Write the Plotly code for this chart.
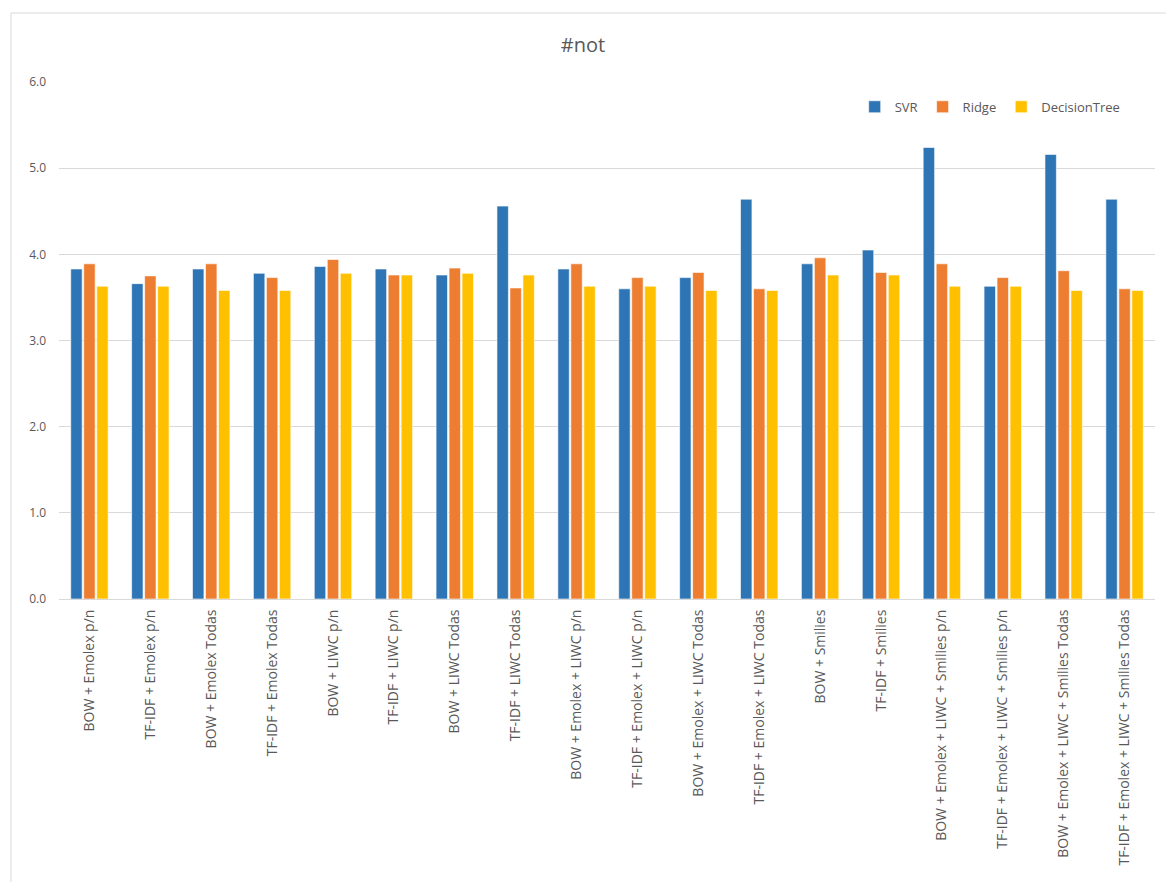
import plotly.graph_objects as go

categories = [
    "BOW + Emolex p/n",
    "TF-IDF + Emolex p/n",
    "BOW + Emolex Todas",
    "TF-IDF + Emolex Todas",
    "BOW + LIWC p/n",
    "TF-IDF + LIWC p/n",
    "BOW + LIWC Todas",
    "TF-IDF + LIWC Todas",
    "BOW + Emolex + LIWC p/n",
    "TF-IDF + Emolex + LIWC p/n",
    "BOW + Emolex + LIWC Todas",
    "TF-IDF + Emolex + LIWC Todas",
    "BOW + Smilies",
    "TF-IDF + Smilies",
    "BOW + Emolex + LIWC + Smilies p/n",
    "TF-IDF + Emolex + LIWC + Smilies p/n",
    "BOW + Emolex + LIWC + Smilies Todas",
    "TF-IDF + Emolex + LIWC + Smilies Todas",
]

svr = [3.83, 3.66, 3.83, 3.78, 3.86, 3.83, 3.76, 4.56, 3.83, 3.60, 3.73, 4.64,
       3.89, 4.05, 5.24, 3.63, 5.16, 4.64]
ridge = [3.89, 3.75, 3.89, 3.73, 3.94, 3.76, 3.84, 3.61, 3.89, 3.73, 3.79, 3.60,
         3.96, 3.79, 3.89, 3.73, 3.81, 3.60]
dtree = [3.63, 3.63, 3.58, 3.58, 3.78, 3.76, 3.78, 3.76, 3.63, 3.63, 3.58, 3.58,
         3.76, 3.76, 3.63, 3.63, 3.58, 3.58]

series = [("SVR", svr, "#2E75B6"), ("Ridge", ridge, "#ED7D31"), ("DecisionTree", dtree, "#FFC000")]

fig = go.Figure()
for name, vals, color in series:
    fig.add_trace(go.Bar(
        x=categories, y=vals, name=name,
        marker=dict(color=color, line=dict(color="rgba(255,255,255,0.6)", width=1)),
    ))

font_color = "#595959"
fig.update_layout(
    width=1166, height=882,
    margin=dict(l=59, r=11, t=82, b=283),
    paper_bgcolor="white", plot_bgcolor="white",
    font=dict(family="Open Sans, Arial, sans-serif", color=font_color, size=12),
    title=dict(text="#not", x=0.5, xanchor="center", y=0.949, yanchor="middle",
               font=dict(size=20, color=font_color)),
    barmode="group", bargap=0.36, bargroupgap=0.12,
    legend=dict(orientation="h", x=0.726, y=0.952, xanchor="left", yanchor="middle",
                font=dict(size=13, color=font_color), bgcolor="rgba(0,0,0,0)",
                itemwidth=30),
    showlegend=True,
)
fig.update_yaxes(range=[0, 6], dtick=1, tickformat=".1f", showgrid=True,
                 gridcolor="#D9D9D9", gridwidth=1, zeroline=False,
                 showline=False, ticklabelstandoff=12,
                 tickfont=dict(size=12, color=font_color))
fig.update_xaxes(tickangle=-90, showline=True, linecolor="#D9D9D9", linewidth=1,
                 ticks="", tickfont=dict(size=14, color=font_color),
                 ticklabelstandoff=4, automargin=False)

fig.add_shape(type="rect", xref="paper", yref="paper",
              x0=-0.0438, x1=1.02, y0=-0.58, y1=1.1335,
              line=dict(color="#D9D9D9", width=1), fillcolor="rgba(0,0,0,0)", layer="below")

fig.write_html("out.html")
